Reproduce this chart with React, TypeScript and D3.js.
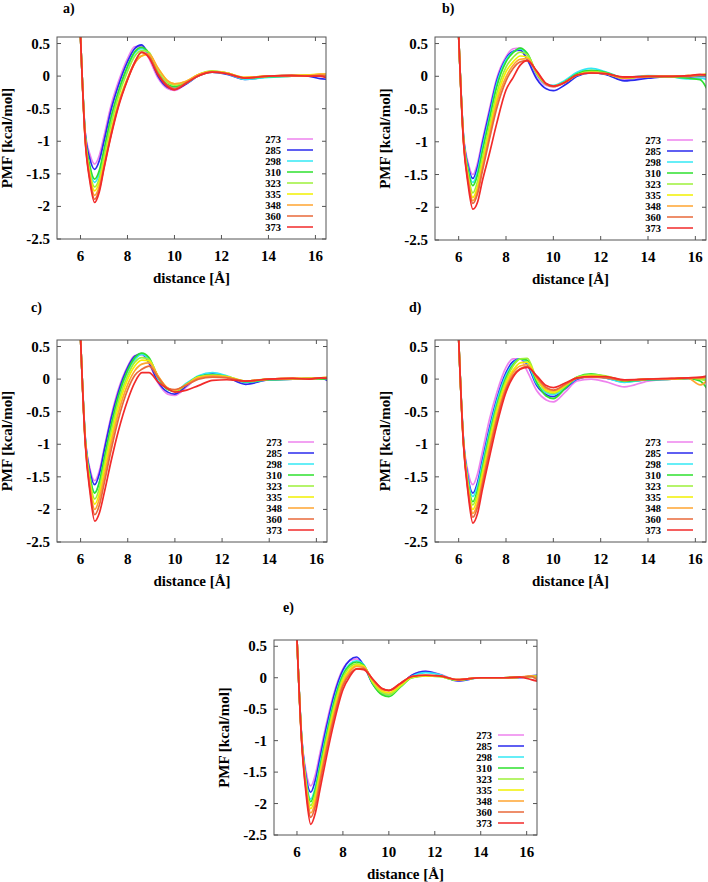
import React from "react";
import * as d3 from "d3";

// ---------- DATA ----------
const TEMPS = ["273", "285", "298", "310", "323", "335", "348", "360", "373"];
const X_GRID = [5.9, 6.0, 6.2, 6.4, 6.6, 6.8, 7.0, 7.3, 7.6, 8.0, 8.3, 8.6, 8.9, 9.3, 9.7, 10.0, 10.5, 11.0, 11.6, 12.2, 13.0, 14.0, 15.0, 15.7, 16.2, 16.5];
const X_TICKS = [6, 8, 10, 12, 14, 16];
const Y_TICKS = [0.5, 0, -0.5, -1, -1.5, -2, -2.5];
const PANEL_LABELS = ["a)", "b)", "c)", "d)", "e)"];

// PMF values per temperature (order of TEMPS), sampled at X_GRID
const PMF_A = [
  [1.6, 0.62, -0.85, -1.2, -1.35, -1.22, -0.92, -0.45, -0.1, 0.27, 0.45, 0.46, 0.28, -0.03, -0.19, -0.22, -0.12, 0.0, 0.07, 0.04, -0.04, -0.01, 0.0, 0.0, 0.01, -0.02],
  [1.6, 0.62, -0.87, -1.27, -1.43, -1.3, -1.0, -0.52, -0.16, 0.22, 0.42, 0.48, 0.33, 0.0, -0.17, -0.2, -0.12, 0.0, 0.06, 0.03, -0.05, -0.01, 0.01, 0.0, -0.04, -0.05],
  [1.6, 0.62, -0.91, -1.42, -1.63, -1.5, -1.17, -0.67, -0.28, 0.13, 0.35, 0.42, 0.35, 0.04, -0.14, -0.17, -0.11, 0.0, 0.06, 0.04, -0.05, -0.02, 0.0, 0.01, 0.02, 0.0],
  [1.6, 0.62, -0.9, -1.38, -1.58, -1.45, -1.13, -0.63, -0.25, 0.15, 0.37, 0.44, 0.36, 0.05, -0.13, -0.16, -0.1, 0.01, 0.07, 0.05, -0.03, -0.01, 0.0, 0.01, 0.0, 0.02],
  [1.6, 0.62, -0.93, -1.47, -1.7, -1.57, -1.24, -0.74, -0.33, 0.07, 0.3, 0.39, 0.37, 0.08, -0.1, -0.14, -0.09, 0.02, 0.08, 0.05, -0.03, 0.0, 0.0, 0.01, 0.02, 0.02],
  [1.6, 0.62, -0.95, -1.51, -1.76, -1.63, -1.32, -0.84, -0.42, -0.03, 0.2, 0.31, 0.33, 0.12, -0.07, -0.12, -0.08, 0.02, 0.07, 0.05, -0.02, 0.0, 0.01, 0.02, 0.03, 0.03],
  [1.6, 0.62, -0.96, -1.55, -1.83, -1.69, -1.37, -0.88, -0.45, -0.05, 0.19, 0.31, 0.34, 0.12, -0.07, -0.12, -0.08, 0.02, 0.07, 0.05, -0.02, 0.0, 0.01, 0.01, 0.03, 0.03],
  [1.6, 0.62, -0.97, -1.58, -1.89, -1.74, -1.4, -0.9, -0.47, -0.05, 0.21, 0.36, 0.31, 0.04, -0.14, -0.19, -0.1, 0.0, 0.06, 0.04, -0.03, 0.0, 0.0, 0.0, 0.01, 0.0],
  [1.6, 0.62, -0.98, -1.62, -1.94, -1.78, -1.42, -0.92, -0.49, -0.06, 0.2, 0.37, 0.29, 0.02, -0.16, -0.21, -0.11, 0.0, 0.06, 0.04, -0.03, 0.0, 0.01, 0.0, 0.0, -0.03],
];

const PMF_B = [
  [1.6, 0.62, -0.88, -1.32, -1.5, -1.32, -0.98, -0.5, -0.04, 0.3, 0.42, 0.43, 0.28, 0.0, -0.14, -0.16, -0.1, 0.02, 0.07, 0.04, -0.05, -0.01, 0.0, 0.0, 0.0, 0.0],
  [1.6, 0.62, -0.9, -1.37, -1.56, -1.38, -1.03, -0.55, -0.08, 0.27, 0.38, 0.4, 0.25, -0.04, -0.19, -0.22, -0.13, 0.0, 0.05, 0.03, -0.07, -0.03, 0.0, -0.01, 0.0, 0.0],
  [1.6, 0.62, -0.91, -1.41, -1.62, -1.45, -1.1, -0.62, -0.13, 0.25, 0.37, 0.42, 0.33, 0.03, -0.12, -0.14, -0.06, 0.06, 0.12, 0.07, -0.02, 0.01, -0.01, -0.04, -0.03, -0.05],
  [1.6, 0.62, -0.92, -1.44, -1.67, -1.5, -1.15, -0.66, -0.17, 0.22, 0.36, 0.43, 0.35, 0.04, -0.12, -0.15, -0.08, 0.04, 0.09, 0.06, -0.03, 0.0, -0.01, -0.03, -0.05, -0.2],
  [1.6, 0.62, -0.94, -1.5, -1.78, -1.6, -1.25, -0.76, -0.27, 0.14, 0.29, 0.37, 0.33, 0.05, -0.12, -0.15, -0.09, 0.02, 0.07, 0.05, -0.03, 0.0, 0.0, 0.0, 0.01, 0.01],
  [1.6, 0.62, -0.95, -1.54, -1.85, -1.68, -1.33, -0.84, -0.35, 0.07, 0.22, 0.31, 0.29, 0.05, -0.12, -0.15, -0.09, 0.02, 0.06, 0.04, -0.03, 0.0, 0.0, 0.01, 0.02, 0.04],
  [1.6, 0.62, -0.96, -1.57, -1.9, -1.74, -1.39, -0.9, -0.42, -0.01, 0.17, 0.26, 0.27, 0.06, -0.12, -0.15, -0.09, 0.02, 0.06, 0.04, -0.02, 0.0, 0.0, 0.01, 0.02, 0.02],
  [1.6, 0.62, -0.97, -1.6, -1.94, -1.79, -1.45, -0.96, -0.5, -0.07, 0.12, 0.22, 0.24, 0.07, -0.12, -0.16, -0.09, 0.02, 0.05, 0.04, -0.02, 0.0, 0.0, 0.0, 0.02, 0.02],
  [1.6, 0.62, -0.99, -1.66, -2.03, -1.92, -1.6, -1.18, -0.73, -0.21, -0.02, 0.17, 0.24, 0.08, -0.11, -0.15, -0.09, 0.02, 0.05, 0.04, -0.01, 0.0, 0.0, 0.01, 0.03, 0.02],
];

const PMF_C = [
  [1.6, 0.62, -0.9, -1.38, -1.56, -1.4, -1.06, -0.56, -0.16, 0.2, 0.36, 0.37, 0.24, -0.07, -0.23, -0.25, -0.12, 0.03, 0.08, 0.03, -0.06, -0.01, 0.0, 0.01, 0.0, 0.02],
  [1.6, 0.62, -0.91, -1.42, -1.62, -1.45, -1.1, -0.6, -0.2, 0.18, 0.35, 0.39, 0.25, -0.05, -0.2, -0.23, -0.1, 0.04, 0.09, 0.03, -0.08, -0.01, 0.0, 0.01, 0.02, -0.03],
  [1.6, 0.62, -0.93, -1.5, -1.74, -1.58, -1.23, -0.72, -0.28, 0.12, 0.3, 0.38, 0.3, 0.0, -0.16, -0.18, -0.06, 0.05, 0.1, 0.05, -0.05, -0.01, 0.0, 0.01, 0.01, 0.0],
  [1.6, 0.62, -0.93, -1.5, -1.75, -1.58, -1.22, -0.7, -0.26, 0.14, 0.33, 0.4, 0.33, 0.02, -0.16, -0.19, -0.08, 0.04, 0.07, 0.04, -0.04, -0.01, 0.0, 0.01, 0.0, 0.01],
  [1.6, 0.62, -0.95, -1.56, -1.84, -1.67, -1.32, -0.8, -0.35, 0.06, 0.26, 0.33, 0.3, 0.03, -0.15, -0.18, -0.08, 0.03, 0.06, 0.04, -0.03, 0.0, 0.0, 0.01, 0.01, 0.02],
  [1.6, 0.62, -0.96, -1.6, -1.92, -1.75, -1.4, -0.89, -0.43, 0.0, 0.2, 0.29, 0.28, 0.03, -0.14, -0.17, -0.08, 0.03, 0.05, 0.04, -0.03, 0.0, 0.01, 0.01, 0.02, 0.03],
  [1.6, 0.62, -0.97, -1.65, -2.0, -1.83, -1.5, -0.98, -0.52, -0.08, 0.13, 0.23, 0.25, 0.04, -0.14, -0.17, -0.08, 0.02, 0.05, 0.03, -0.03, 0.0, 0.01, 0.01, 0.02, 0.03],
  [1.6, 0.62, -0.98, -1.69, -2.08, -1.93, -1.6, -1.08, -0.62, -0.16, 0.06, 0.15, 0.2, 0.02, -0.14, -0.16, -0.09, 0.0, 0.03, 0.02, -0.03, 0.0, 0.01, 0.0, 0.02, 0.02],
  [1.6, 0.62, -1.0, -1.74, -2.18, -2.05, -1.75, -1.25, -0.8, -0.32, -0.05, 0.1, 0.1, -0.05, -0.15, -0.2, -0.17, -0.1, -0.02, -0.01, -0.03, 0.0, 0.01, 0.0, 0.02, 0.01],
];

const PMF_D = [
  [1.6, 0.62, -0.9, -1.43, -1.62, -1.45, -1.12, -0.62, -0.22, 0.18, 0.31, 0.31, 0.12, -0.18, -0.32, -0.35, -0.2, -0.03, 0.0, -0.04, -0.12, -0.03, 0.0, 0.01, 0.0, 0.02],
  [1.6, 0.62, -0.92, -1.52, -1.75, -1.58, -1.25, -0.75, -0.32, 0.1, 0.27, 0.31, 0.22, -0.1, -0.24, -0.27, -0.15, 0.0, 0.04, 0.02, -0.04, -0.01, 0.0, 0.01, 0.0, 0.02],
  [1.6, 0.62, -0.93, -1.55, -1.8, -1.63, -1.3, -0.8, -0.36, 0.06, 0.24, 0.31, 0.25, -0.07, -0.21, -0.24, -0.13, 0.01, 0.05, 0.02, -0.05, -0.01, 0.0, 0.01, 0.01, 0.0],
  [1.6, 0.62, -0.94, -1.6, -1.88, -1.7, -1.37, -0.86, -0.42, 0.02, 0.22, 0.31, 0.29, -0.05, -0.26, -0.3, -0.14, 0.03, 0.08, 0.04, -0.03, -0.01, 0.0, 0.01, -0.03, -0.15],
  [1.6, 0.62, -0.95, -1.63, -1.93, -1.75, -1.42, -0.91, -0.46, -0.02, 0.2, 0.31, 0.32, 0.0, -0.19, -0.22, -0.11, 0.03, 0.07, 0.05, -0.02, 0.0, 0.0, 0.02, 0.0, -0.03],
  [1.6, 0.62, -0.96, -1.66, -2.0, -1.82, -1.48, -0.98, -0.52, -0.06, 0.14, 0.25, 0.26, 0.01, -0.17, -0.2, -0.1, 0.02, 0.05, 0.04, -0.02, 0.0, 0.0, 0.02, 0.01, 0.02],
  [1.6, 0.62, -0.97, -1.69, -2.06, -1.9, -1.56, -1.05, -0.59, -0.11, 0.1, 0.2, 0.22, 0.02, -0.15, -0.18, -0.09, 0.02, 0.04, 0.03, -0.02, 0.0, 0.0, 0.01, -0.09, -0.02],
  [1.6, 0.62, -0.98, -1.72, -2.12, -1.96, -1.62, -1.11, -0.64, -0.15, 0.06, 0.16, 0.19, 0.03, -0.13, -0.17, -0.08, 0.01, 0.03, 0.02, -0.02, 0.0, 0.01, 0.02, 0.02, 0.03],
  [1.6, 0.62, -0.99, -1.76, -2.21, -2.06, -1.7, -1.2, -0.72, -0.2, 0.03, 0.15, 0.18, 0.05, -0.1, -0.13, -0.06, 0.02, 0.04, 0.04, -0.01, 0.0, 0.01, 0.02, 0.03, 0.05],
];

const PMF_E = [
  [1.6, 0.62, -0.91, -1.5, -1.72, -1.54, -1.2, -0.7, -0.26, 0.14, 0.27, 0.3, 0.2, -0.08, -0.23, -0.26, -0.12, 0.04, 0.1, 0.06, -0.04, 0.0, 0.0, 0.01, 0.02, 0.0],
  [1.6, 0.62, -0.92, -1.58, -1.82, -1.63, -1.28, -0.76, -0.3, 0.12, 0.28, 0.33, 0.2, -0.1, -0.25, -0.27, -0.12, 0.04, 0.1, 0.05, -0.05, 0.0, 0.0, 0.0, 0.03, 0.04],
  [1.6, 0.62, -0.93, -1.64, -1.93, -1.74, -1.38, -0.85, -0.38, 0.06, 0.22, 0.27, 0.21, -0.08, -0.24, -0.27, -0.13, 0.02, 0.08, 0.05, -0.04, 0.0, 0.0, 0.01, 0.02, 0.02],
  [1.6, 0.62, -0.94, -1.67, -1.97, -1.78, -1.42, -0.89, -0.41, 0.04, 0.2, 0.25, 0.2, -0.1, -0.27, -0.3, -0.15, 0.0, 0.03, 0.02, -0.04, 0.0, 0.0, 0.01, 0.02, 0.0],
  [1.6, 0.62, -0.95, -1.7, -2.03, -1.84, -1.48, -0.95, -0.47, 0.0, 0.17, 0.22, 0.19, -0.08, -0.24, -0.27, -0.14, 0.0, 0.03, 0.02, -0.04, 0.0, 0.0, 0.01, 0.02, 0.03],
  [1.6, 0.62, -0.96, -1.73, -2.08, -1.9, -1.54, -1.01, -0.53, -0.04, 0.13, 0.2, 0.18, -0.06, -0.21, -0.24, -0.12, 0.01, 0.03, 0.02, -0.03, 0.0, 0.0, 0.01, 0.02, 0.02],
  [1.6, 0.62, -0.97, -1.76, -2.15, -1.97, -1.6, -1.07, -0.59, -0.09, 0.1, 0.18, 0.17, -0.04, -0.19, -0.21, -0.1, 0.02, 0.04, 0.03, -0.03, 0.0, 0.0, 0.01, 0.03, 0.0],
  [1.6, 0.62, -0.98, -1.8, -2.22, -2.04, -1.67, -1.13, -0.65, -0.13, 0.06, 0.14, 0.15, -0.03, -0.17, -0.2, -0.09, 0.02, 0.04, 0.03, -0.03, 0.0, 0.0, 0.01, 0.02, -0.05],
  [1.6, 0.62, -1.0, -1.86, -2.33, -2.15, -1.78, -1.23, -0.73, -0.19, 0.02, 0.14, 0.13, -0.02, -0.17, -0.2, -0.09, 0.02, 0.04, 0.03, -0.03, 0.0, 0.0, 0.01, -0.03, -0.06],
];

const PANEL_DATA = [PMF_A, PMF_B, PMF_C, PMF_D, PMF_E];

// ---------- STYLE / LAYOUT ----------
const COLORS = ["#ee82ee", "#2a2aee", "#33e8f5", "#2ee02e", "#9cf03a", "#f2f000", "#ffa530", "#e8683a", "#f22a2a"];
const FONT = "'Liberation Serif', 'Times New Roman', serif";

const LAYOUT = [
  { left: 57, right: 326, top: 37, bottom: 239, lx: 63, ly: 13 },
  { left: 435, right: 706, top: 37, bottom: 240, lx: 442, ly: 13 },
  { left: 57, right: 327, top: 340, bottom: 542, lx: 31, ly: 312 },
  { left: 435, right: 706, top: 340, bottom: 542, lx: 409, ly: 312 },
  { left: 274, right: 537, top: 640, bottom: 835, lx: 283, ly: 612 },
];

const X_DOMAIN = [5, 16.45];
const Y_DOMAIN = [-2.5, 0.6];

function Panel({ idx }: { idx: number }) {
  const L = LAYOUT[idx];
  const data = PANEL_DATA[idx];
  const x = d3.scaleLinear().domain(X_DOMAIN).range([L.left, L.right]);
  const y = d3.scaleLinear().domain(Y_DOMAIN).range([L.bottom, L.top]);
  const line = d3
    .line<number>()
    .x((_, i) => x(X_GRID[i]))
    .y((v) => y(v))
    .curve(d3.curveMonotoneX);
  const clipId = `clip-${idx}`;
  const tickLen = 4;
  const frame = "#555";
  const cy = (L.top + L.bottom) / 2;
  const cx = (L.left + L.right) / 2;
  return (
    <g>
      <defs>
        <clipPath id={clipId}>
          <rect x={L.left} y={L.top} width={L.right - L.left} height={L.bottom - L.top} />
        </clipPath>
      </defs>
      <text x={L.lx} y={L.ly} fontFamily={FONT} fontWeight="bold" fontSize={14}>
        {PANEL_LABELS[idx]}
      </text>
      {Y_TICKS.map((t) => (
        <g key={"y" + t}>
          <line x1={L.left} x2={L.left + tickLen} y1={y(t)} y2={y(t)} stroke={frame} strokeWidth={1} />
          <line x1={L.right} x2={L.right - tickLen} y1={y(t)} y2={y(t)} stroke={frame} strokeWidth={1} />
          <text x={L.left - 7} y={y(t) + 5} textAnchor="end" fontFamily={FONT} fontWeight="bold" fontSize={15}>
            {String(t)}
          </text>
        </g>
      ))}
      {X_TICKS.map((t) => (
        <g key={"x" + t}>
          <line x1={x(t)} x2={x(t)} y1={L.bottom} y2={L.bottom - tickLen} stroke={frame} strokeWidth={1} />
          <line x1={x(t)} x2={x(t)} y1={L.top} y2={L.top + tickLen} stroke={frame} strokeWidth={1} />
          <text x={x(t)} y={L.bottom + 22} textAnchor="middle" fontFamily={FONT} fontWeight="bold" fontSize={15}>
            {String(t)}
          </text>
        </g>
      ))}
      <g clipPath={`url(#${clipId})`}>
        {data.map((vals, i) => (
          <path key={i} d={line(vals) || ""} fill="none" stroke={COLORS[i]} strokeWidth={1.7} />
        ))}
      </g>
      <rect
        x={L.left}
        y={L.top}
        width={L.right - L.left}
        height={L.bottom - L.top}
        fill="none"
        stroke={frame}
        strokeWidth={1}
      />
      {TEMPS.map((t, i) => {
        const ry = L.bottom - 12 - (TEMPS.length - 1 - i) * 11;
        return (
          <g key={t}>
            <text x={L.right - 45} y={ry + 3.5} textAnchor="end" fontFamily={FONT} fontWeight="bold" fontSize={10.5}>
              {t}
            </text>
            <line x1={L.right - 39} x2={L.right - 13} y1={ry} y2={ry} stroke={COLORS[i]} strokeWidth={1.5} />
          </g>
        );
      })}
      <text x={cx} y={L.bottom + 44} textAnchor="middle" fontFamily={FONT} fontWeight="bold" fontSize={15}>
        distance [Å]
      </text>
      <text
        transform={`translate(${L.left - 45},${cy}) rotate(-90)`}
        textAnchor="middle"
        fontFamily={FONT}
        fontWeight="bold"
        fontSize={15}
      >
        PMF [kcal/mol]
      </text>
    </g>
  );
}

export default function App() {
  return (
    <svg width={708} height={882} style={{ position: "absolute", left: 0, top: 0, background: "#fff" }}>
      <rect width={708} height={882} fill="#fff" />
      {LAYOUT.map((_, i) => (
        <Panel key={i} idx={i} />
      ))}
    </svg>
  );
}
